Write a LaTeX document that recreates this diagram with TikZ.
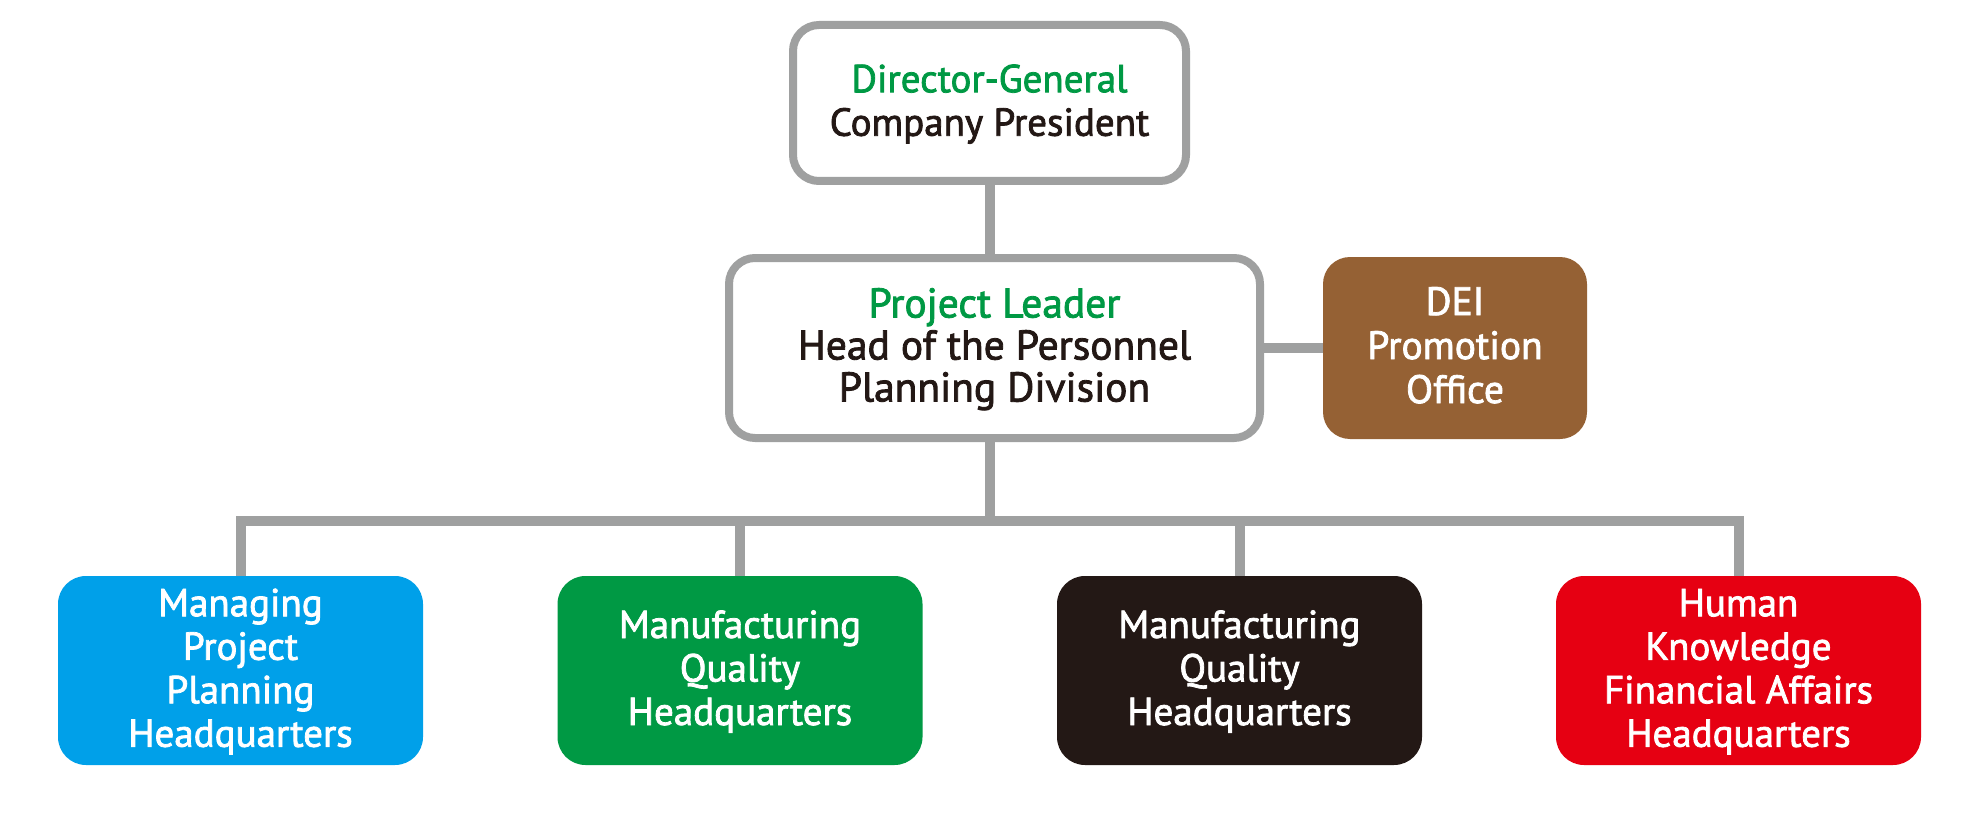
\documentclass[tikz,border=0pt]{standalone}
\usepackage{fontspec}
\setmainfont{PT Sans}[FakeBold=2]
\definecolor{linegray}{HTML}{9FA0A0}
\definecolor{dicgreen}{HTML}{009944}
\definecolor{dicblue}{HTML}{00A0E9}
\definecolor{dicblack}{HTML}{231815}
\definecolor{dicred}{HTML}{E60012}
\definecolor{dicbrown}{HTML}{956134}
\begin{document}
\begin{tikzpicture}[x=1pt,y=-1pt,
  every node/.style={inner sep=0pt, outer sep=0pt, align=center},
  mainfont/.style={font=\fontsize{39}{43.5}\selectfont},
  plfont/.style={font=\fontsize{41.5}{42}\selectfont},
  deifont/.style={font=\fontsize{39.5}{44}\selectfont},
  graybox/.style={draw=linegray, line width=8pt, fill=white, rounded corners=26pt,
    text=dicblack, mainfont, text depth=6pt},
  unitbox/.style={fill=#1, rounded corners=28pt, text=white, mainfont,
    minimum width=365pt, minimum height=189pt, text depth=6pt},
  twolines/.style={text height=71.5pt},
  threelines/.style={text height=115pt},
  fourlines/.style={text height=158.5pt},
  conn/.style={draw=linegray, line width=10pt, line join=miter, line cap=butt}]
\useasboundingbox[fill=white] (0,0) rectangle (1980,813);

\node[graybox, twolines, minimum width=393pt, minimum height=156pt] (top) at (989.5,103)
  {{\color{dicgreen}Director-General}\\Company President};
\node[graybox, plfont, text height=113pt, minimum width=531pt, minimum height=180pt] (pl) at (994.5,348)
  {{\color{dicgreen}Project Leader}\\Head of the Personnel\\Planning Division};
\node[fill=dicbrown, rounded corners=27pt, text=white, deifont,
  minimum width=264pt, minimum height=182pt, text height=116pt, text depth=6pt]
  (dei) at (1455,348) {DEI\\Promotion\\Office};

\node[unitbox=dicblue, fourlines]   (u1) at (240.5,670.5) {Managing\\Project\\Planning\\Headquarters};
\node[unitbox=dicgreen, threelines] (u2) at (740,670.5) {Manufacturing\\Quality\\Headquarters};
\node[unitbox=dicblack, threelines] (u3) at (1239.5,670.5) {Manufacturing\\Quality\\Headquarters};
\node[unitbox=dicred, fourlines]    (u4) at (1738.5,670.5) {Human\\Knowledge\\Financial Affairs\\Headquarters};

\coordinate (hub) at (990,521);
\coordinate (tb) at (990,0);

\draw[conn] (top.south -| tb) -- (pl.north -| tb);
\draw[conn] (pl.south -| tb) -- (hub);
\draw[conn] (u1.north) -- (u1.north |- hub) -- (u4.north |- hub) -- (u4.north);
\draw[conn] (u2.north |- hub) -- (u2.north);
\draw[conn] (u3.north |- hub) -- (u3.north);
\draw[conn] (pl.east) -- (dei.west);
\end{tikzpicture}
\end{document}
